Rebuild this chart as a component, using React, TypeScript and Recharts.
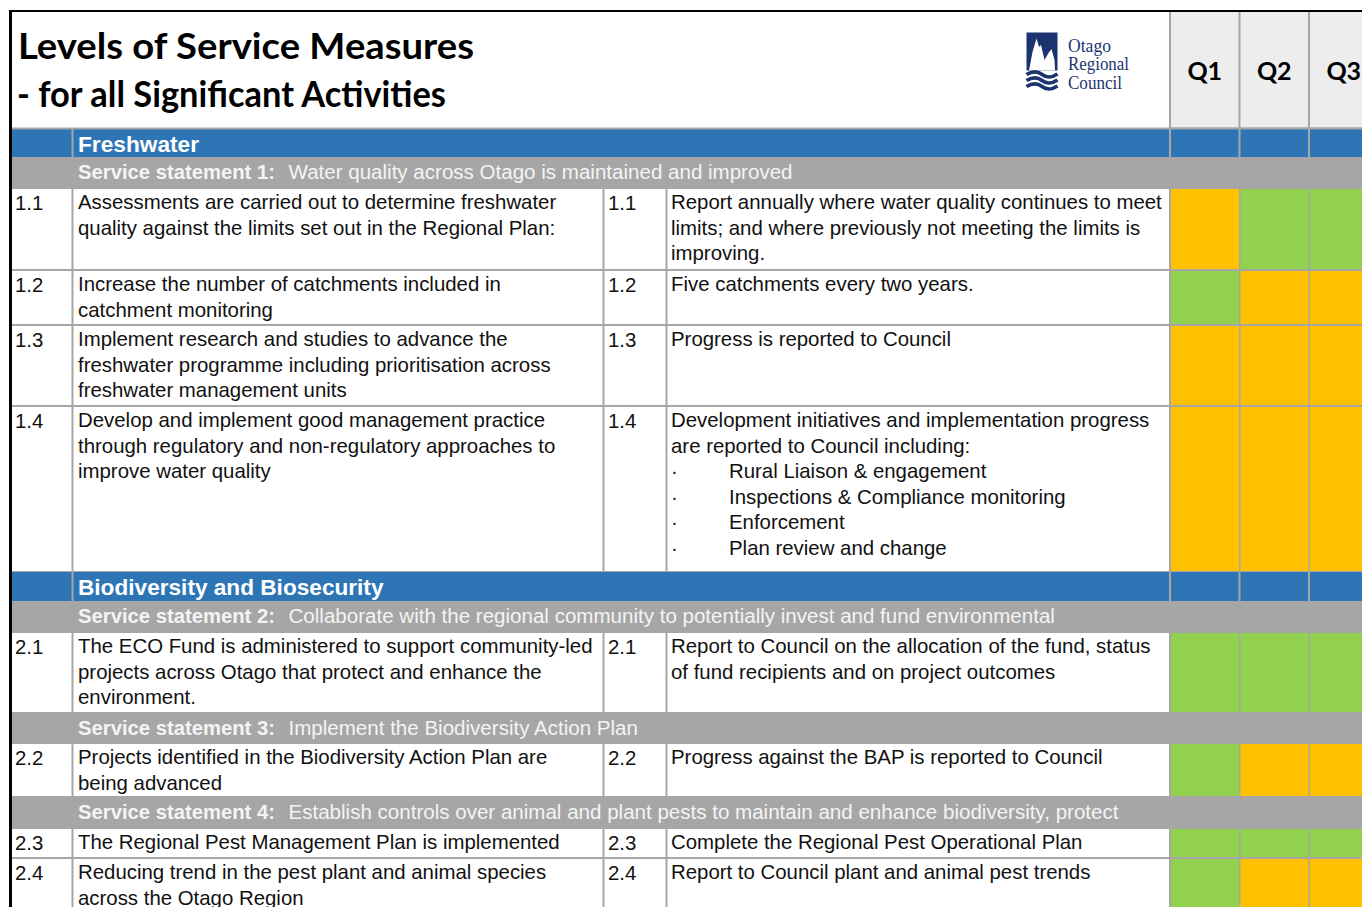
import React from 'react';
import { BarChart, Bar, XAxis, YAxis, Cell } from 'recharts';

// ---------- data ----------
const quarters = ['Q1', 'Q2', 'Q3'];
const measureIds = ['1.1', '1.2', '1.3', '1.4', '2.1', '2.2', '2.3', '2.4'];
const q1Status = ['amber', 'green', 'amber', 'amber', 'green', 'green', 'green', 'green'];
const q2Status = ['green', 'amber', 'amber', 'amber', 'green', 'amber', 'green', 'amber'];
const q3Status = ['green', 'amber', 'amber', 'amber', 'green', 'amber', 'green', 'amber'];
const groupTitles = ['Freshwater', 'Biodiversity and Biosecurity'];
const statementLabels = ['Service statement 1:', 'Service statement 2:', 'Service statement 3:', 'Service statement 4:'];
const statementTexts = [
  'Water quality across Otago is maintained and improved',
  'Collaborate with the regional community to potentially invest and fund environmental',
  'Implement the Biodiversity Action Plan',
  'Establish controls over animal and plant pests to maintain and enhance biodiversity, protect',
];
const measureTexts = [
  ['Assessments are carried out to determine freshwater', 'quality against the limits set out in the Regional Plan:'],
  ['Increase the number of catchments included in', 'catchment monitoring'],
  ['Implement research and studies to advance the', 'freshwater programme including prioritisation across', 'freshwater management units'],
  ['Develop and implement good management practice', 'through regulatory and non-regulatory approaches to', 'improve water quality'],
  ['The ECO Fund is administered to support community-led', 'projects across Otago that protect and enhance the', 'environment.'],
  ['Projects identified in the Biodiversity Action Plan are', 'being advanced'],
  ['The Regional Pest Management Plan is implemented'],
  ['Reducing trend in the pest plant and animal species', 'across the Otago Region'],
];
const targetTexts = [
  ['Report annually where water quality continues to meet', 'limits; and where previously not meeting the limits is', 'improving.'],
  ['Five catchments every two years.'],
  ['Progress is reported to Council'],
  ['Development initiatives and implementation progress', 'are reported to Council including:'],
  ['Report to Council on the allocation of the fund, status', 'of fund recipients and on project outcomes'],
  ['Progress against the BAP is reported to Council'],
  ['Complete the Regional Pest Operational Plan'],
  ['Report to Council plant and animal pest trends'],
];
const targetBullets = [[], [], [], ['Rural Liaison & engagement', 'Inspections & Compliance monitoring', 'Enforcement', 'Plan review and change'], [], [], [], []];
const titleLines = ['Levels of Service Measures', '- for all Significant Activities'];
const logoLines = ['Otago', 'Regional', 'Council'];

// ---------- styling / layout ----------
const statusColors: Record<string, string> = { green: '#92d050', amber: '#ffc000' };
const BLUE = '#2e75b6';
const GREY = '#a6a6a6';
const HEAD = '#ededed';
const NAVY = '#1b3470';
const SANS = '"Liberation Sans", Arial, sans-serif';
const TITLE = 'Lato, "Open Sans", sans-serif';
const FS = 20.4;
const LH = 25.5;
const Q_LEFT = 1170;
const Q_BAND = 69.5;

type Row = { kind: 'group' | 'statement' | 'item'; idx: number; top: number; bottom: number };
const rows: Row[] = [
  { kind: 'group', idx: 0, top: 128.5, bottom: 158 },
  { kind: 'statement', idx: 0, top: 157, bottom: 188 },
  { kind: 'item', idx: 0, top: 188, bottom: 270 },
  { kind: 'item', idx: 1, top: 270, bottom: 325 },
  { kind: 'item', idx: 2, top: 325, bottom: 406 },
  { kind: 'item', idx: 3, top: 406, bottom: 572 },
  { kind: 'group', idx: 1, top: 571, bottom: 602 },
  { kind: 'statement', idx: 1, top: 601, bottom: 632 },
  { kind: 'item', idx: 4, top: 632, bottom: 713 },
  { kind: 'statement', idx: 2, top: 713, bottom: 743 },
  { kind: 'item', idx: 5, top: 743, bottom: 797 },
  { kind: 'statement', idx: 3, top: 797, bottom: 828 },
  { kind: 'item', idx: 6, top: 828, bottom: 858 },
  { kind: 'item', idx: 7, top: 858, bottom: 935 },
];
const groupTextLen = [121, 305.5];
const statementLabelLen = 197;

const allStatus = [q1Status, q2Status, q3Status];

function StatusRow({ idx, top, height }: { idx: number; top: number; height: number }) {
  const data = quarters.map((q, i) => ({ quarter: q, value: 1, status: allStatus[i][idx] }));
  return (
    <div style={{ position: 'absolute', left: Q_LEFT, top, width: Q_BAND * quarters.length, height }}>
      <BarChart
        width={Q_BAND * quarters.length}
        height={height}
        data={data}
        margin={{ top: 0, right: 0, bottom: 0, left: 0 }}
        barCategoryGap={1}
      >
        <XAxis dataKey="quarter" hide />
        <YAxis hide domain={[0, 1]} type="number" />
        <Bar dataKey="value" isAnimationActive={false}>
          {data.map((d, i) => (
            <Cell key={i} fill={statusColors[d.status]} />
          ))}
        </Bar>
      </BarChart>
    </div>
  );
}

export default function App() {
  const qCells = quarters.map((_, i) => ({ x: Q_LEFT + Q_BAND * i + 1, w: Q_BAND - 2 }));
  return (
    <div style={{ position: 'absolute', left: 0, top: 0, width: 1362, height: 907, overflow: 'hidden', background: '#fff' }}>
      <svg width={1362} height={907} style={{ position: 'absolute', left: 0, top: 0 }}>
        <rect x={0} y={0} width={1362} height={907} fill="#fff" />
        {/* header Q cells */}
        <rect x={1169} y={12} width={220} height={117} fill={GREY} />
        {qCells.map((c, i) => (
          <rect key={'qh' + i} x={c.x} y={12} width={c.w} height={115.5} fill={HEAD} />
        ))}
        {quarters.map((q, i) => (
          <text key={'qt' + i} x={Q_LEFT + Q_BAND * (i + 0.5)} y={80} textAnchor="middle" fontFamily={TITLE} fontWeight={700} fontSize={25} fill="#000">
            {q}
          </text>
        ))}
        {/* title */}
        <text x={18} y={58.5} fontFamily={TITLE} fontWeight={700} fontSize={36} fill="#000" textLength={456} lengthAdjust="spacingAndGlyphs">
          {titleLines[0]}
        </text>
        <text x={17} y={107} fontFamily={TITLE} fontWeight={700} fontSize={36} fill="#000" textLength={429} lengthAdjust="spacingAndGlyphs">
          {titleLines[1]}
        </text>
        {/* logo */}
        <g>
          <rect x={1026.5} y={32.5} width={31} height={38} fill={NAVY} />
          <path d="M1029,70.5 L1032.5,52 L1036.5,38.5 L1039,47 L1041,45 L1044.5,60 L1048.5,53 L1051.5,49 L1054.5,60 L1055,70.5 Z" fill="#fff" />
          {[74.5, 80.5, 86.5].map((y, i) => (
            <path
              key={'w' + i}
              d={`M1026.5,${y} C1032,${y - 3.2} 1038,${y - 3.2} 1042,${y} S1052,${y + 3.2} 1057.5,${y - 0.5}`}
              stroke={NAVY}
              strokeWidth={3.6}
              fill="none"
            />
          ))}
          {logoLines.map((t, i) => (
            <text
              key={'l' + i}
              x={1068}
              y={[51.5, 70, 88.5][i]}
              fontFamily='"Liberation Serif", "DejaVu Serif", serif'
              fontSize={18.5}
              fill={NAVY}
              textLength={[43, 61, 54][i]}
              lengthAdjust="spacingAndGlyphs"
            >
              {t}
            </text>
          ))}
        </g>
        {/* table grid background */}
        <rect x={10} y={127.5} width={1352} height={780} fill={GREY} />
        {rows.map((r, ri) => {
          const y = r.top + 1;
          const h = r.bottom - r.top - 2;
          if (r.kind === 'group') {
            const base = r.top + 23.5;
            return (
              <g key={'r' + ri}>
                <rect x={12} y={y} width={59.5} height={h} fill={BLUE} />
                <rect x={73.5} y={y} width={1095.5} height={h} fill={BLUE} />
                {qCells.map((c, i) => (
                  <rect key={i} x={c.x} y={y} width={c.w} height={h} fill={BLUE} />
                ))}
                <text x={78} y={base} fontFamily={SANS} fontWeight={700} fontSize={21.5} fill="#fff" textLength={groupTextLen[r.idx]} lengthAdjust="spacingAndGlyphs">
                  {groupTitles[r.idx]}
                </text>
              </g>
            );
          }
          if (r.kind === 'statement') {
            const base = r.top + 22;
            return (
              <g key={'r' + ri}>
                <rect x={12} y={r.top} width={1350} height={r.bottom - r.top} fill={GREY} />
                <text x={78} y={base} fontFamily={SANS} fontWeight={700} fontSize={FS} fill="#f4f4f4" textLength={statementLabelLen} lengthAdjust="spacingAndGlyphs">
                  {statementLabels[r.idx]}
                </text>
                <text x={288.5} y={base} fontFamily={SANS} fontSize={20.55} fill="#f4f4f4">
                  {statementTexts[r.idx]}
                </text>
              </g>
            );
          }
          const base = r.top + 21;
          return (
            <g key={'r' + ri}>
              <rect x={12} y={y} width={59.5} height={h} fill="#fff" />
              <rect x={73.5} y={y} width={529} height={h} fill="#fff" />
              <rect x={604.5} y={y} width={61} height={h} fill="#fff" />
              <rect x={667.5} y={y} width={501.5} height={h} fill="#fff" />
              <text x={15} y={base + 1} fontFamily={SANS} fontSize={FS} fill="#111">{measureIds[r.idx]}</text>
              <text x={608} y={base + 1} fontFamily={SANS} fontSize={FS} fill="#111">{measureIds[r.idx]}</text>
              {measureTexts[r.idx].map((t, li) => (
                <text key={'m' + li} x={78} y={base + li * LH} fontFamily={SANS} fontSize={FS} fill="#111">{t}</text>
              ))}
              {targetTexts[r.idx].map((t, li) => (
                <text key={'t' + li} x={671} y={base + li * LH} fontFamily={SANS} fontSize={FS} fill="#111">{t}</text>
              ))}
              {targetBullets[r.idx].map((t, li) => {
                const by = base + (targetTexts[r.idx].length + li) * LH;
                return (
                  <g key={'b' + li}>
                    <text x={671} y={by} fontFamily={SANS} fontSize={FS} fill="#111">·</text>
                    <text x={729} y={by} fontFamily={SANS} fontSize={FS} fill="#111">{t}</text>
                  </g>
                );
              })}
            </g>
          );
        })}
        {/* outer frame */}
        <rect x={9} y={10} width={1353} height={2} fill="#000" />
        <rect x={9} y={10} width={3} height={897} fill="#000" />
      </svg>
      {rows
        .filter((r) => r.kind === 'item')
        .map((r) => (
          <StatusRow key={'s' + r.idx} idx={r.idx} top={r.top + 1} height={r.bottom - r.top - 2} />
        ))}
    </div>
  );
}
